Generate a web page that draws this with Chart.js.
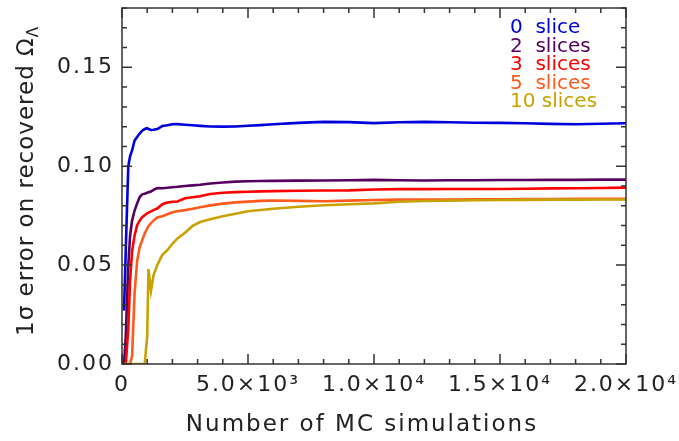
<!DOCTYPE html>
<html>
<head>
<meta charset="utf-8">
<script src="https://cdn.jsdelivr.net/npm/chart.js@4.4.0/dist/chart.umd.min.js"></script>
<style>
  html, body { margin: 0; padding: 0; background: #fff; }
</style>
</head>
<body>
<canvas id="mcchart" width="679" height="441"></canvas>
<script>
// number of MC simulations (x) and the 1-sigma error for each slicing
const nSims = [80, 150, 250, 320, 400, 500, 600, 700, 800, 900, 1000, 1050, 1150, 1250, 1400,
  1600, 1800, 2000, 2200, 2500, 2800, 3100, 3500, 4000, 4500, 5000, 5500, 6000, 7000, 8000,
  9000, 10000, 11000, 12000, 13000, 14000, 15000, 16000, 17000, 18000, 19000, 20000]

const slice0 = [0.027, 0.058, 0.100, 0.105, 0.108, 0.113, 0.1148, 0.1165, 0.118, 0.1188, 0.1192,
  0.1188, 0.1183, 0.1184, 0.1188, 0.1203, 0.1207, 0.1212, 0.1213, 0.1210, 0.1207, 0.1204, 0.1201,
  0.1200, 0.1201, 0.1205, 0.1208, 0.1212, 0.1219, 0.1224, 0.1223, 0.1218, 0.1222, 0.1224, 0.1222,
  0.1220, 0.1219, 0.1217, 0.1214, 0.1212, 0.1215, 0.1217]
const slice2 = [0, 0.014, 0.050, 0.0648, 0.0725, 0.0776, 0.0812, 0.0843, 0.0858, 0.0861, 0.0866,
  0.0868, 0.0872, 0.0880, 0.0890, 0.0889, 0.0891, 0.0894, 0.0896, 0.0900, 0.0903, 0.0906, 0.0913,
  0.0918, 0.0922, 0.0924, 0.0925, 0.0926, 0.0927, 0.0928, 0.0929, 0.0931, 0.0929, 0.0928, 0.0929,
  0.0929, 0.0930, 0.0930, 0.0931, 0.0931, 0.0932, 0.0932]
const slice3 = [0, 0, 0.018, 0.042, 0.057, 0.065, 0.0702, 0.0725, 0.0742, 0.0752, 0.0762,
  0.0765, 0.0772, 0.0778, 0.0786, 0.0808, 0.0816, 0.0820, 0.0822, 0.0838, 0.0843, 0.0848, 0.0860,
  0.0866, 0.0869, 0.0871, 0.0873, 0.0874, 0.0876, 0.0877, 0.0878, 0.0882, 0.0884, 0.0884, 0.0885,
  0.0885, 0.0885, 0.0886, 0.0888, 0.0889, 0.0890, 0.0892]
const slice5 = [0, 0, 0, 0, 0.004, 0.036, 0.052, 0.059, 0.0625, 0.066, 0.0685,
  0.0697, 0.0712, 0.0725, 0.0741, 0.0747, 0.0757, 0.0767, 0.0772, 0.0778, 0.0785, 0.0793, 0.0802,
  0.0811, 0.0817, 0.0821, 0.0825, 0.0827, 0.0825, 0.0823, 0.0826, 0.0829, 0.0831, 0.0832, 0.0832,
  0.0833, 0.0833, 0.0834, 0.0834, 0.0835, 0.0835, 0.0835]
const slice10 = [0, 0, 0, 0, 0, 0, 0, 0, 0, 0, 0.014,
  0.048, 0.037, 0.0448, 0.050, 0.0552, 0.0576, 0.0608, 0.0635, 0.0664, 0.0698, 0.0718, 0.0732,
  0.0747, 0.0760, 0.0772, 0.0779, 0.0785, 0.0795, 0.0803, 0.0808, 0.0812, 0.0820, 0.0824, 0.0826,
  0.0828, 0.0829, 0.0830, 0.0831, 0.0831, 0.0832, 0.0832]

const seriesLabels = ['0  slice', '2  slices', '3  slices', '5  slices', '10 slices']
const seriesColors = ['#0000dc', '#55005f', '#ff0000', '#ff5a1e', '#c8a200']
const xTickLabels = ['0', '5.0\u00d710\u00b3', '1.0\u00d710\u2074', '1.5\u00d710\u2074', '2.0\u00d710\u2074']
const yTickLabels = ['0.00', '0.05', '0.10', '0.15']

const FONT = '"DejaVu Sans", sans-serif'
const INK = '#222'
const SPACING = '2px'

function toPoints(vals) {
  return vals.map((v, i) => ({ x: nSims[i], y: v }))
}

// the axis text in the original is set wide, so space the letters out a bit
const spacingPlugin = {
  id: 'spacing',
  beforeInit(chart) { chart.ctx.letterSpacing = SPACING },
  beforeUpdate(chart) { chart.ctx.letterSpacing = SPACING },
  beforeDraw(chart) { chart.ctx.letterSpacing = SPACING }
}

// frame with inward ticks on all four sides, legend text and axis titles
const framePlugin = {
  id: 'frame',
  afterDraw(chart) {
    const { ctx, chartArea: a, scales } = chart
    ctx.save()
    ctx.strokeStyle = '#333'
    ctx.lineWidth = 1.5
    ctx.strokeRect(a.left, a.top, a.right - a.left, a.bottom - a.top)

    ctx.beginPath()
    for (const t of scales.x.ticks) {
      const px = scales.x.getPixelForValue(t.value)
      const len = t.value % 5000 === 0 ? 10 : 5
      ctx.moveTo(px, a.bottom); ctx.lineTo(px, a.bottom - len)
      ctx.moveTo(px, a.top); ctx.lineTo(px, a.top + len)
    }
    for (const t of scales.y.ticks) {
      const py = scales.y.getPixelForValue(t.value)
      const len = Math.round(t.value * 100) % 5 === 0 ? 10 : 5
      ctx.moveTo(a.left, py); ctx.lineTo(a.left + len, py)
      ctx.moveTo(a.right, py); ctx.lineTo(a.right - len, py)
    }
    ctx.stroke()

    // legend
    ctx.letterSpacing = '0px'
    ctx.font = '20px ' + FONT
    ctx.textBaseline = 'alphabetic'
    ctx.textAlign = 'left'
    seriesLabels.forEach((lab, i) => {
      ctx.fillStyle = seriesColors[i]
      ctx.fillText(lab, 510, 33 + i * 18.5)
    })

    // x title
    ctx.letterSpacing = SPACING
    ctx.fillStyle = INK
    ctx.font = '23px ' + FONT
    ctx.textAlign = 'center'
    ctx.textBaseline = 'middle'
    ctx.fillText('Number of MC simulations', 362, 425)

    // y title with subscript Lambda
    ctx.letterSpacing = '1px'
    const main = '1\u03c3 error on recovered \u03a9'
    ctx.translate(25, 181)
    ctx.rotate(-Math.PI / 2)
    ctx.font = '23px ' + FONT
    const wMain = ctx.measureText(main).width
    ctx.font = '15px ' + FONT
    const wSub = ctx.measureText('\u039b').width
    const x0 = -(wMain + wSub) / 2
    ctx.textAlign = 'left'
    ctx.textBaseline = 'alphabetic'
    ctx.font = '23px ' + FONT
    ctx.fillText(main, x0, 8)
    ctx.font = '15px ' + FONT
    ctx.fillText('\u039b', x0 + wMain, 13)
    ctx.restore()
  }
}

const allSeries = [slice0, slice2, slice3, slice5, slice10]

new Chart(document.getElementById('mcchart'), {
  type: 'line',
  data: {
    datasets: allSeries.map((vals, i) => ({
      label: seriesLabels[i],
      data: toPoints(vals),
      borderColor: seriesColors[i],
      borderWidth: 2.6,
      pointRadius: 0,
      tension: 0,
      fill: false,
      order: allSeries.length - i
    }))
  },
  options: {
    responsive: false,
    animation: false,
    layout: { padding: { top: 8, right: 53, left: 0, bottom: 0 } },
    plugins: { legend: { display: false }, tooltip: { enabled: false } },
    scales: {
      x: {
        type: 'linear',
        min: 0,
        max: 20000,
        grid: { display: false, drawTicks: false },
        border: { display: false },
        afterFit: s => { s.height = 77; s.paddingLeft = 0; s.paddingRight = 0 },
        ticks: {
          stepSize: 1000,
          autoSkip: false,
          maxRotation: 0,
          padding: 8,
          color: INK,
          font: { family: FONT, size: 22 },
          callback: v => (v % 5000 === 0 ? xTickLabels[v / 5000] : '')
        }
      },
      y: {
        min: 0,
        max: 0.18,
        grid: { display: false, drawTicks: false },
        border: { display: false },
        afterFit: s => { s.width = 122; s.paddingTop = 0; s.paddingBottom = 0 },
        ticks: {
          stepSize: 0.01,
          autoSkip: false,
          padding: 8,
          color: INK,
          font: { family: FONT, size: 22 },
          callback: v => {
            const k = Math.round(v * 100)
            return k % 5 === 0 ? yTickLabels[k / 5] : ''
          }
        }
      }
    }
  },
  plugins: [spacingPlugin, framePlugin]
})
</script>
</body>
</html>
